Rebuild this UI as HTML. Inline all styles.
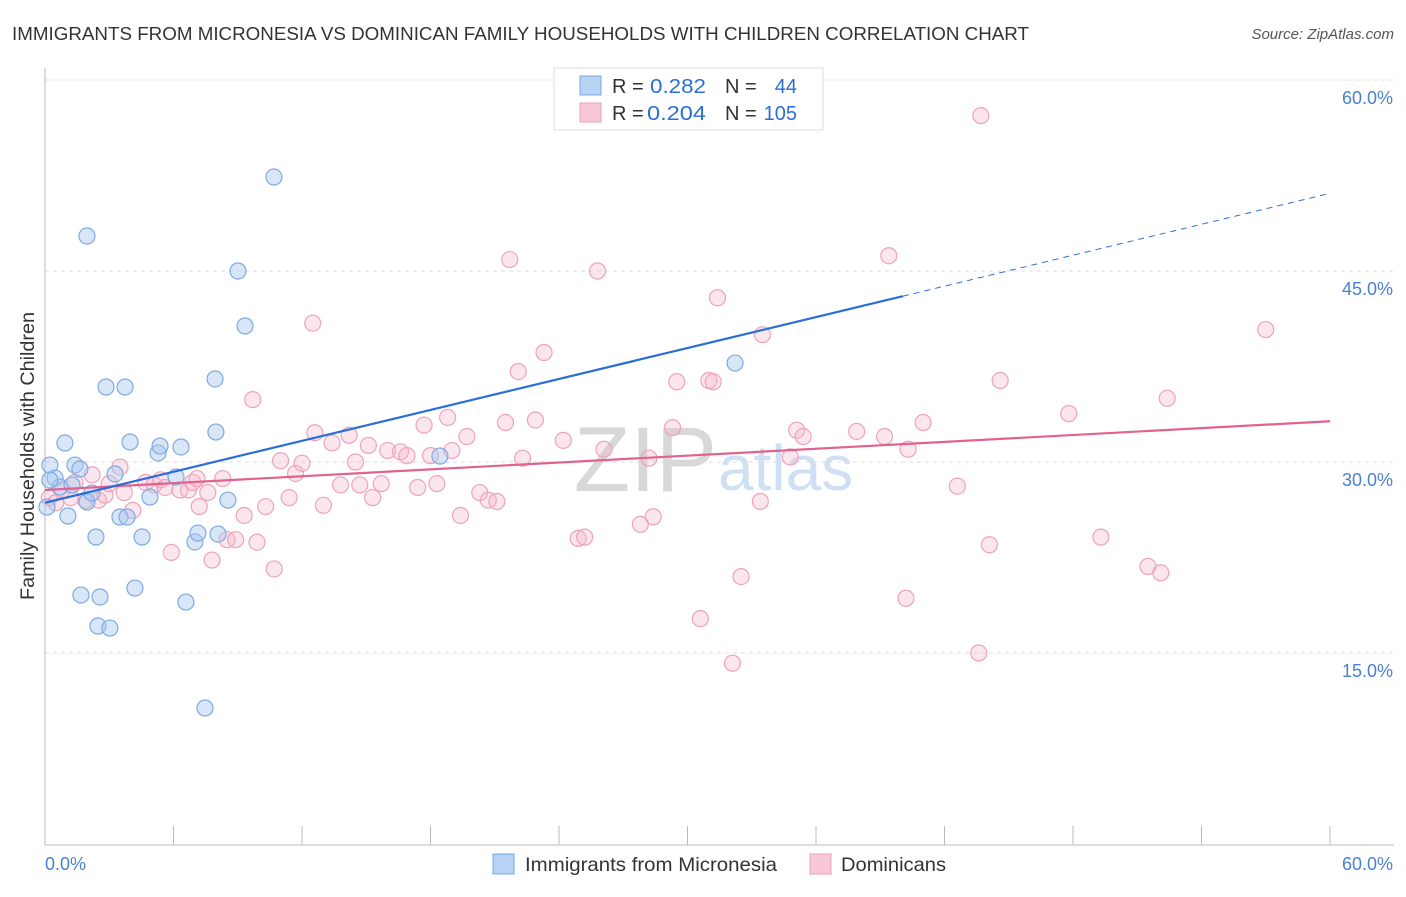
<!DOCTYPE html>
<html><head><meta charset="utf-8"><style>
body{margin:0;background:#fff;font-family:"Liberation Sans",sans-serif;}
svg text{font-family:"Liberation Sans",sans-serif;}
</style></head><body>
<svg id="c" width="1406" height="892">
<text x="12" y="40" font-size="18.5" fill="#333" textLength="1017" lengthAdjust="spacingAndGlyphs">IMMIGRANTS FROM MICRONESIA VS DOMINICAN FAMILY HOUSEHOLDS WITH CHILDREN CORRELATION CHART</text>
<text x="1394" y="39" font-size="15" fill="#555" font-style="italic" text-anchor="end">Source: ZipAtlas.com</text>
<text x="34" y="456" font-size="19" fill="#333" text-anchor="middle" transform="rotate(-90 34 456)" textLength="288" lengthAdjust="spacingAndGlyphs">Family Households with Children</text>
<text x="717" y="491" font-size="92" fill="#d8d8d8" text-anchor="end" font-family="Liberation Serif">ZIP</text>
<text x="718" y="490" font-size="64" fill="#cfe0f5">atlas</text>
<g id="grid"></g><g id="marks"></g>
<g>
<rect x="554" y="68" width="269" height="62" fill="#fff" stroke="#ddd"/>
<rect x="580" y="76" width="21" height="19" fill="#b8d2f4" stroke="#7aa8e0"/>
<rect x="580" y="103" width="21" height="19" fill="#f9c8d6" stroke="#eca0b8"/>
<text x="612" y="93" font-size="20" fill="#333">R =</text>
<text x="650" y="93" font-size="20" fill="#2a6fd6" textLength="56" lengthAdjust="spacingAndGlyphs">0.282</text>
<text x="725" y="93" font-size="20" fill="#333">N =</text>
<text x="797" y="93" font-size="20" fill="#2a6fd6" text-anchor="end">44</text>
<text x="612" y="120" font-size="20" fill="#333">R =</text>
<text x="647" y="120" font-size="20" fill="#2a6fd6" textLength="59" lengthAdjust="spacingAndGlyphs">0.204</text>
<text x="725" y="120" font-size="20" fill="#333">N =</text>
<text x="797" y="120" font-size="20" fill="#2a6fd6" text-anchor="end">105</text>
</g>
<g>
<rect x="493" y="854" width="21" height="20" fill="#b8d2f4" stroke="#7aa8e0"/>
<text x="525" y="871" font-size="19.5" fill="#333" textLength="252" lengthAdjust="spacingAndGlyphs">Immigrants from Micronesia</text>
<rect x="810" y="854" width="21" height="20" fill="#f9c8d6" stroke="#eca0b8"/>
<text x="841" y="871" font-size="19.5" fill="#333" textLength="105" lengthAdjust="spacingAndGlyphs">Dominicans</text>
</g>
</svg>
<script>
const yTicks=[15,30,45,60];
const yTickLabels=["15.0%","30.0%","45.0%","60.0%"];
const xTicks=[0,6,12,18,24,30,36,42,48,54,60];
const blueX=[0.09,0.23,0.47,0.70,0.93,1.07,1.40,1.63,1.96,1.96,2.19,2.38,1.68,2.57,2.47,3.03,2.85,3.74,3.27,3.50,3.83,3.97,4.20,4.53,4.90,5.28,5.37,6.12,6.35,6.58,7.00,7.14,7.47,7.94,7.98,8.08,8.54,9.01,9.34,10.69,18.44,32.22,0.23,1.26];
const blueY=[26.46,29.76,28.74,28.04,31.49,25.76,29.76,29.45,47.75,26.86,27.56,24.11,19.55,19.40,17.12,16.96,35.89,35.89,29.06,25.68,25.68,31.57,20.10,24.11,27.25,30.71,31.25,28.82,31.18,19.00,23.72,24.42,10.68,36.52,32.35,24.34,27.01,45.0,40.68,52.38,30.47,37.77,28.58,28.19];
const pinkX=[0.2,0.5,0.8,1.2,1.4,1.9,2.2,2.5,2.8,3.0,3.5,3.7,4.1,4.7,5.1,5.4,5.6,5.9,6.3,6.7,6.9,7.1,7.2,7.6,7.8,8.3,8.5,8.9,9.3,9.7,9.9,10.3,10.7,11.0,11.4,11.7,12.0,12.5,12.6,13.0,13.4,13.8,14.2,14.5,14.7,15.1,15.3,15.7,16.0,16.6,16.9,17.4,17.7,18.0,18.3,18.8,19.0,19.4,19.7,20.3,20.7,21.1,21.5,21.7,22.1,22.3,22.9,23.3,24.2,24.9,25.2,25.8,26.1,27.8,28.2,28.4,29.3,29.5,30.6,31.0,31.2,31.4,32.1,32.5,33.4,33.5,34.8,35.1,35.4,37.9,39.2,39.4,40.2,40.3,41.0,42.6,43.6,43.7,44.1,44.6,47.8,49.3,51.5,52.1,52.4,57.0];
const pinkY=[27.2,26.8,27.8,27.2,28.4,27.0,29.0,27.0,27.4,28.3,29.6,27.6,26.2,28.4,28.2,28.6,28.0,22.9,27.8,27.8,28.4,28.7,26.5,27.6,22.3,28.7,23.9,23.9,25.8,34.9,23.7,26.5,21.6,30.1,27.2,29.1,29.9,40.9,32.3,26.6,31.5,28.2,32.1,30.0,28.2,31.3,27.2,28.3,30.9,30.8,30.5,28.0,32.9,30.5,28.3,33.5,30.9,25.8,32.0,27.6,27.0,26.9,33.1,45.9,37.1,30.3,33.3,38.6,31.7,24.0,24.1,45.0,31.0,25.1,30.3,25.7,32.7,36.3,17.7,36.4,36.3,42.9,14.2,21.0,26.9,40.0,30.4,32.5,32.0,32.4,32.0,46.2,19.3,31.0,33.1,28.1,15.0,57.2,23.5,36.4,33.8,24.1,21.8,21.3,35.0,40.4];
const blueTrend=[26.8,51.1,40.06];
const pinkTrend=[27.8,33.2];
const NS="http://www.w3.org/2000/svg";
const sx=v=>45+v*1285/60, sy=v=>844-v*191/15;
function mk(tag,at,parent){const e=document.createElementNS(NS,tag);for(const k in at)e.setAttribute(k,at[k]);parent.appendChild(e);return e;}
const grid=document.getElementById('grid'),marks=document.getElementById('marks');
yTicks.forEach((t,i)=>{
 const l=mk('line',{x1:45,x2:1394,y1:sy(t),y2:sy(t),stroke:'#ddd','stroke-dasharray':'4,4'},grid);
 
 
 const tx=mk('text',{x:1393,y:sy(t)+24,'font-size':18,fill:'#4a80d0','text-anchor':'end'},grid);
 tx.textContent=yTickLabels[i];
 
 
});
const ax=mk('line',{x1:45,x2:1394,y1:845,y2:845,stroke:'#bbb'},grid);


const ay=mk('line',{x1:45,x2:45,y1:68,y2:845,stroke:'#bbb'},grid);


xTicks.forEach(t=>{
 const l=mk('line',{x1:sx(t),x2:sx(t),y1:826,y2:845,stroke:'#bbb'},grid);
 
 
});
const xl0=mk('text',{x:45,y:870,'font-size':18,fill:'#4a80d0'},grid);xl0.textContent='0.0%';


const xl1=mk('text',{x:1393,y:870,'font-size':18,fill:'#4a80d0','text-anchor':'end'},grid);xl1.textContent='60.0%';


pinkX.forEach((x,i)=>{
 const c=mk('circle',{cx:sx(x),cy:sy(pinkY[i]),r:8,fill:'rgba(246,184,204,0.35)',stroke:'#eea2bb','stroke-width':1.2},marks);
 
 
});
blueX.forEach((x,i)=>{
 const c=mk('circle',{cx:sx(x),cy:sy(blueY[i]),r:8,fill:'rgba(168,200,240,0.45)',stroke:'#7eaae2','stroke-width':1.2},marks);
 
 
});
const bAt=x=>blueTrend[0]+(blueTrend[1]-blueTrend[0])*x/60;
const pl=mk('line',{x1:sx(0),y1:sy(pinkTrend[0]),x2:sx(60),y2:sy(pinkTrend[1]),stroke:'#e0628f','stroke-width':2.2},marks);


const bl=mk('line',{x1:sx(0),y1:sy(bAt(0)),x2:sx(blueTrend[2]),y2:sy(bAt(blueTrend[2])),stroke:'#2a6fd6','stroke-width':2.2},marks);


const bd=mk('line',{x1:sx(blueTrend[2]),y1:sy(bAt(blueTrend[2])),x2:sx(60),y2:sy(bAt(60)),stroke:'#2a6fd6','stroke-width':1,'stroke-dasharray':'6,5'},marks);


</script>
</body></html>
